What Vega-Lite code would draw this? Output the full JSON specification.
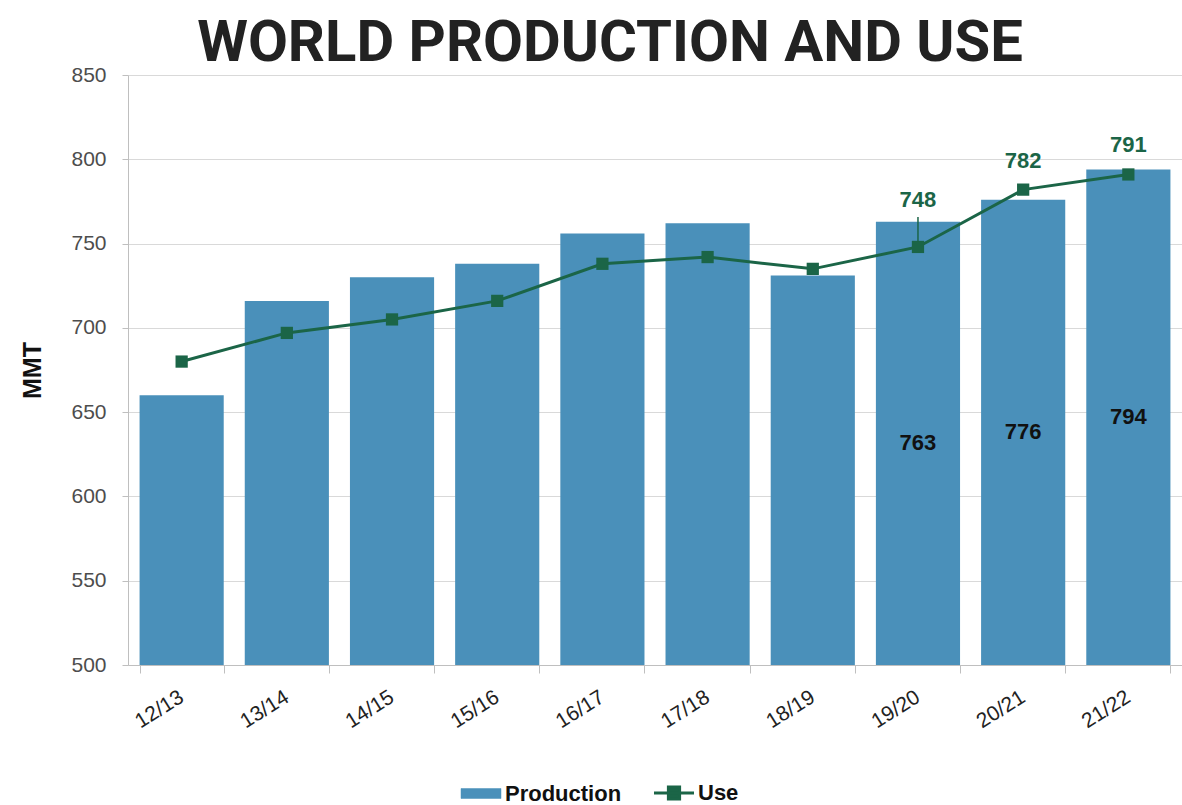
{
  "$schema": "https://vega.github.io/schema/vega-lite/v6.json",
  "width": 1054,
  "height": 590,
  "autosize": {"type": "none"},
  "padding": {"left": 128, "top": 75, "right": 0, "bottom": 140},
  "background": "white",
  "title": {
    "text": "WORLD PRODUCTION AND USE",
    "font": "Roboto",
    "fontWeight": "bold",
    "fontSize": 58,
    "color": "#222222",
    "anchor": "middle",
    "dx": -45,
    "offset": -9
  },
  "data": {
    "values": [
      {"season": "12/13", "production": 660, "use": 680},
      {"season": "13/14", "production": 716, "use": 697},
      {"season": "14/15", "production": 730, "use": 705},
      {"season": "15/16", "production": 738, "use": 716},
      {"season": "16/17", "production": 756, "use": 738},
      {"season": "17/18", "production": 762, "use": 742},
      {"season": "18/19", "production": 731, "use": 735},
      {"season": "19/20", "production": 763, "use": 748},
      {"season": "20/21", "production": 776, "use": 782},
      {"season": "21/22", "production": 794, "use": 791}
    ]
  },
  "encoding": {
    "x": {
      "field": "season",
      "type": "nominal",
      "sort": null,
      "scale": {"paddingInner": 0.2, "paddingOuter": 0.11},
      "axis": {
        "title": null,
        "labelAngle": -32,
        "labelFont": "Liberation Sans",
        "labelFontSize": 21,
        "labelColor": "#222222",
        "tickBand": "extent",
        "tickSize": 8,
        "tickColor": "#bfbfbf",
        "domainColor": "#bfbfbf",
        "labelPadding": 13,
        "labelOffset": -6,
        "grid": false
      }
    }
  },
  "layer": [
    {
      "layer": [
        {
          "mark": {"type": "bar", "color": "#4a90ba", "clip": true},
          "encoding": {
            "y": {
              "field": "production",
              "type": "quantitative",
              "scale": {"domain": [500, 850], "nice": false, "zero": false},
              "axis": {
                "title": "MMT",
                "titleFont": "Liberation Sans",
                "titleFontWeight": "bold",
                "titleFontSize": 25,
                "titleColor": "#111111",
                "titleAngle": -90,
                "titleX": -96,
                "titleY": 295,
                "titleAlign": "center",
                "titleBaseline": "middle",
                "values": [500, 550, 600, 650, 700, 750, 800, 850],
                "grid": true,
                "gridColor": "#d9d9d9",
                "domainColor": "#bfbfbf",
                "tickColor": "#bfbfbf",
                "tickSize": 6,
                "labelPadding": 16,
                "labelFont": "Liberation Sans",
                "labelFontSize": 21,
                "labelColor": "#4d4d4d"
              }
            },
            "color": {
              "datum": "Production",
              "scale": {"domain": ["Production", "Use"], "range": ["#4a90ba", "#1b6547"]},
              "legend": {
                "orient": "none",
                "legendX": 342,
                "legendY": 707,
                "direction": "horizontal",
                "title": null,
                "padding": 0,
                "symbolSize": 1600,
                "labelFont": "Liberation Sans",
                "labelFontWeight": "bold",
                "labelFontSize": 22,
                "labelColor": "#111111",
                "labelOffset": 13,
                "columnPadding": 26,
                "encode": {
                  "symbols": {
                    "update": {
                      "shape": {"signal": "datum.value === 'Use' ? 'M-1,0H1M-0.28,-0.3h0.56v0.6h-0.56z' : 'M-1,-0.25h2v0.5h-2z'"},
                      "fill": {"signal": "datum.value === 'Use' ? '#1b6547' : '#4a90ba'"},
                      "stroke": {"signal": "datum.value === 'Use' ? '#1b6547' : '#4a90ba'"},
                      "strokeWidth": {"signal": "datum.value === 'Use' ? 3 : 0.5"},
                      "opacity": {"value": 1},
                      "fillOpacity": {"value": 1}
                    }
                  }
                }
              }
            }
          }
        },
        {
          "mark": {"type": "line", "strokeWidth": 3, "point": {"shape": "square", "size": 150, "filled": true, "opacity": 1}},
          "encoding": {
            "y": {"field": "use", "type": "quantitative"},
            "color": {"datum": "Use"}
          }
        },
        {
          "transform": [{"filter": {"field": "season", "oneOf": ["20/21", "21/22"]}}],
          "mark": {"type": "text", "dy": -29, "font": "Liberation Sans", "fontWeight": "bold", "fontSize": 22, "color": "#1b6547"},
          "encoding": {
            "y": {"field": "use", "type": "quantitative"},
            "text": {"field": "use", "type": "quantitative"}
          }
        },
        {
          "transform": [{"filter": {"field": "season", "oneOf": ["19/20"]}}],
          "mark": {"type": "text", "dy": -47, "font": "Liberation Sans", "fontWeight": "bold", "fontSize": 22, "color": "#1b6547"},
          "encoding": {
            "y": {"field": "use", "type": "quantitative"},
            "text": {"field": "use", "type": "quantitative"}
          }
        },
        {
          "transform": [{"filter": {"field": "season", "oneOf": ["19/20"]}}],
          "mark": {"type": "rule", "yOffset": -5, "y2Offset": -30, "color": "#1b6547", "strokeWidth": 1.5},
          "encoding": {
            "y": {"field": "use", "type": "quantitative"},
            "y2": {"field": "use"}
          }
        }
      ]
    },
    {
      "transform": [{"filter": {"field": "season", "oneOf": ["19/20", "20/21", "21/22"]}}],
      "mark": {"type": "text", "font": "Liberation Sans", "fontWeight": "bold", "fontSize": 22, "color": "#111111", "baseline": "middle"},
      "encoding": {
        "y": {"field": "production", "type": "quantitative", "scale": {"domain": [500, 1200], "nice": false, "zero": false}, "axis": null},
        "text": {"field": "production", "type": "quantitative"}
      }
    }
  ],
  "resolve": {"scale": {"y": "independent"}},
  "config": {"view": {"stroke": null}}
}
